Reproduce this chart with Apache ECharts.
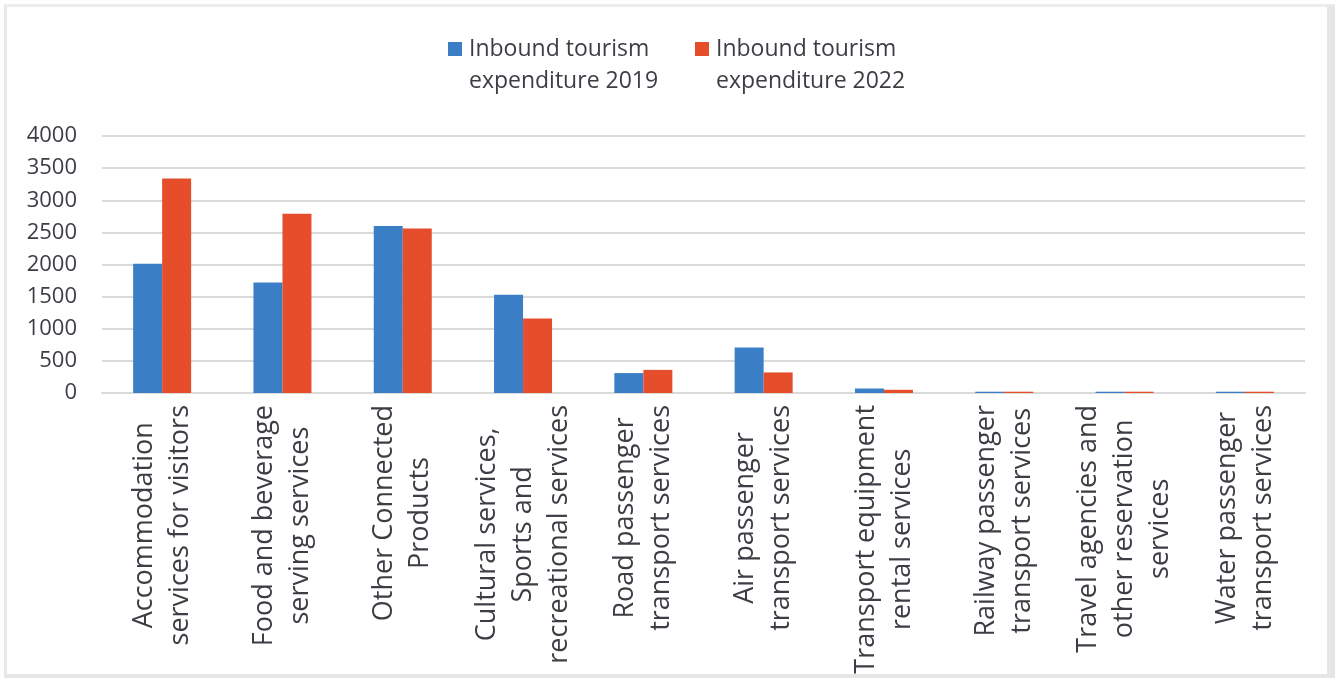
<!DOCTYPE html>
<html>
<head>
<meta charset="utf-8">
<script src="https://cdn.jsdelivr.net/npm/echarts@6/dist/echarts.min.js"></script>
<style>
  html, body { margin: 0; padding: 0; background: #ffffff; }
  #frame {
    position: absolute; left: 4px; top: 4px; width: 1331px; height: 674px;
    border-left: 3px solid #e8e8e8; border-top: 3px solid #ececec;
    border-right: 8px solid #e6e6e6; border-bottom: 4px solid #e6e6e6;
    box-sizing: border-box;
  }
  #chart { position: absolute; left: 0; top: 0; width: 1343px; height: 682px; }
</style>
</head>
<body>
<div id="frame"></div>
<div id="chart"></div>
<script>
// Service categories (each line of a label is separated by "\n")
const categories = [
  'Accommodation\nservices for visitors',
  'Food and beverage\nserving services',
  'Other Connected\nProducts',
  'Cultural services,\nSports and\nrecreational services',
  'Road passenger\ntransport services',
  'Air passenger\ntransport services',
  'Transport equipment\nrental services',
  'Railway passenger\ntransport services',
  'Travel agencies and\nother reservation\nservices',
  'Water passenger\ntransport services'
];

const seriesNames = ['Inbound tourism\nexpenditure 2019', 'Inbound tourism\nexpenditure 2022'];

const expenditure2019 = [2010, 1720, 2600, 1530, 310, 710, 70, 20, 20, 20];
const expenditure2022 = [3340, 2790, 2560, 1160, 360, 320, 50, 20, 20, 20];

const yTicks = { min: 0, max: 4000, interval: 500 };

const FONT = '"Open Sans", "Noto Sans", sans-serif';
const TEXT = '#3d3d45';
const GRID = '#dadada';
const BLUE = '#3A7FC5';
const RED = '#E64D2A';

// square swatch sitting at the first text line of a two-line legend entry
const swatch = 'path://M0,0L14,0L14,14L0,14Z M0,46L0.01,46L0.01,46.01Z';

function legendFor(name, left) {
  return {
    data: [name],
    left: left,
    top: 33,
    padding: 0,
    itemWidth: 14,
    itemHeight: 46,
    icon: swatch,
    selectedMode: false,
    textStyle: { fontFamily: FONT, fontSize: 23, lineHeight: 32, color: TEXT, padding: [0, 0, 0, 2] }
  };
}

const chart = echarts.init(document.getElementById('chart'), null, { renderer: 'canvas' });

chart.setOption({
  animation: false,
  backgroundColor: 'transparent',
  legend: [legendFor(seriesNames[0], 448), legendFor(seriesNames[1], 695)],
  grid: {
    left: 102, right: 38, top: 136, bottom: 289,
    containLabel: false,
    outerBoundsMode: 'none'
  },
  xAxis: {
    type: 'category',
    data: categories,
    axisLine: { show: true, lineStyle: { color: GRID, width: 2 } },
    axisTick: { show: false },
    axisLabel: {
      interval: 0,
      rotate: 90,
      margin: 12,
      formatter: function (v) {
        return v.split('\n').map(function (l) { return '{c|' + l + '}'; }).join('\n');
      },
      rich: {
        c: { align: 'center', fontFamily: FONT, fontSize: 27, lineHeight: 36, color: TEXT }
      }
    }
  },
  yAxis: {
    type: 'value',
    min: yTicks.min,
    max: yTicks.max,
    interval: yTicks.interval,
    axisLine: { show: false },
    axisTick: { show: false },
    splitLine: { show: true, lineStyle: { color: GRID, width: 2 } },
    axisLabel: {
      margin: 25,
      fontFamily: FONT,
      fontSize: 22,
      color: TEXT,
      formatter: function (v) { return String(v); }
    }
  },
  series: [
    {
      name: seriesNames[0],
      type: 'bar',
      data: expenditure2019,
      barWidth: 29,
      barGap: '0%',
      itemStyle: { color: BLUE }
    },
    {
      name: seriesNames[1],
      type: 'bar',
      data: expenditure2022,
      barWidth: 29,
      barGap: '0%',
      itemStyle: { color: RED }
    }
  ]
});
</script>
</body>
</html>
